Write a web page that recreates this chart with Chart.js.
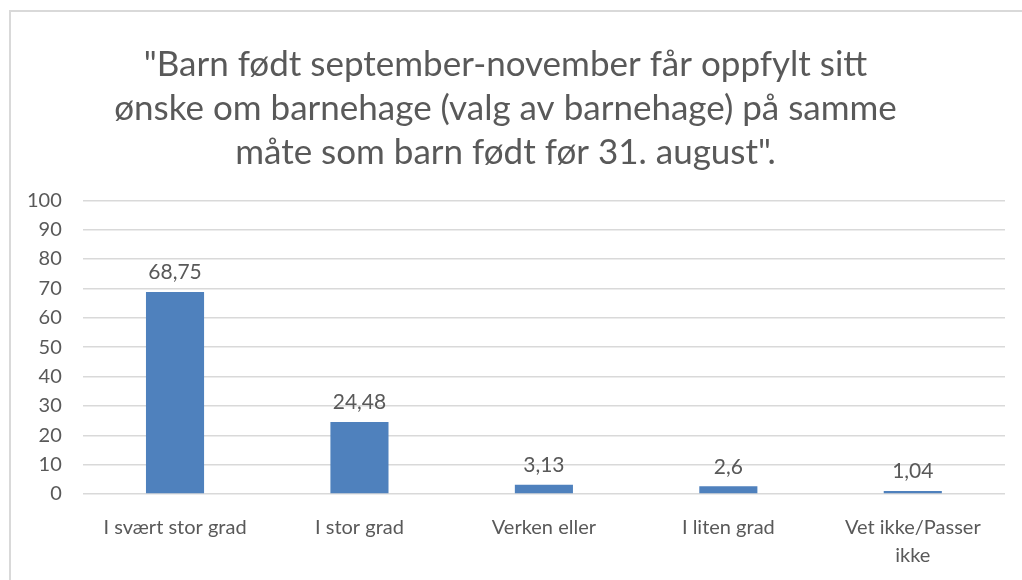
<!DOCTYPE html>
<html>
<head>
<meta charset="utf-8">
<script src="https://cdn.jsdelivr.net/npm/chart.js@4"></script>
<style>
  html, body { margin: 0; padding: 0; background: #fff; }
  #wrap { position: relative; width: 1022px; height: 580px; overflow: hidden; }
  #frame { position: absolute; left: 9px; top: 10px; width: 1100px; height: 700px;
           border-left: 2px solid #d9d9d9; border-top: 2px solid #d9d9d9; }
  canvas { position: absolute; left: 0; top: 0; }
</style>
</head>
<body>
<div id="wrap">
  <div id="frame"></div>
  <canvas id="chart" width="1022" height="580"></canvas>
</div>
<script>
const titleLines = [
  '"Barn født september-november får oppfylt sitt',
  'ønske om barnehage (valg av barnehage) på samme',
  'måte som barn født før 31. august".'
];
const categories = [
  'I svært stor grad',
  'I stor grad',
  'Verken eller',
  'I liten grad',
  ['Vet ikke/Passer', 'ikke']
];
const values = [68.75, 24.48, 3.13, 2.6, 1.04];
const yTicks = { min: 0, max: 100, step: 10 };

const textColor = '#595959';
const fontFamily = 'Lato, "Open Sans", sans-serif';

// value labels above each bar, decimal comma
const barLabels = {
  id: 'barLabels',
  afterDatasetsDraw(chart) {
    const ctx = chart.ctx;
    const meta = chart.getDatasetMeta(0);
    ctx.save();
    ctx.fillStyle = textColor;
    ctx.font = '21px ' + fontFamily;
    ctx.textAlign = 'center';
    ctx.textBaseline = 'bottom';
    meta.data.forEach((bar, i) => {
      const txt = String(values[i]).replace('.', ',');
      ctx.fillText(txt, bar.x, bar.y - 9);
    });
    ctx.restore();
  }
};

new Chart(document.getElementById('chart'), {
  type: 'bar',
  data: {
    labels: categories,
    datasets: [{
      data: values,
      backgroundColor: '#4f81bd',
      categoryPercentage: 1,
      barPercentage: 0.315
    }]
  },
  options: {
    responsive: false,
    animation: false,
    layout: { padding: { left: 6, right: 17, top: 0, bottom: -10 } },
    plugins: {
      legend: { display: false },
      tooltip: { enabled: false },
      title: {
        display: true,
        text: titleLines,
        color: textColor,
        font: { family: fontFamily, size: 35, weight: 'normal', lineHeight: 1.25 },
        padding: { top: 43, bottom: 26 }
      }
    },
    scales: {
      x: {
        grid: { display: false, drawTicks: false },
        border: { display: false },
        ticks: {
          color: textColor,
          font: { family: fontFamily, size: 20, lineHeight: 1.4 },
          padding: 20,
          maxRotation: 0,
          autoSkip: false
        }
      },
      y: {
        min: yTicks.min,
        max: yTicks.max,
        grid: { color: '#d9d9d9', lineWidth: 1.5, drawTicks: false },
        border: { display: false },
        ticks: {
          stepSize: yTicks.step,
          color: textColor,
          font: { family: fontFamily, size: 20 },
          padding: 21
        }
      }
    }
  },
  plugins: [barLabels]
});
</script>
</body>
</html>
